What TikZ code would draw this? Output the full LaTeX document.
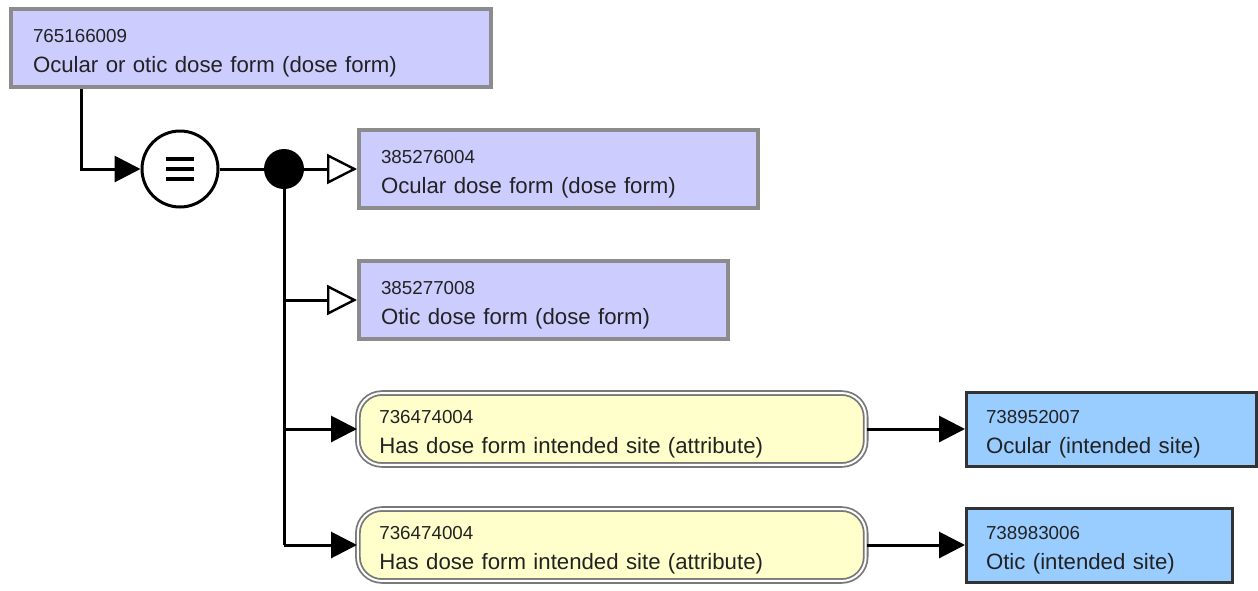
\documentclass[tikz,border=0pt]{standalone}
\usepackage{fontspec}
\setmainfont{Liberation Sans}
\usetikzlibrary{arrows.meta,calc}
\definecolor{primfill}{RGB}{204,204,255}
\definecolor{primline}{RGB}{140,140,140}
\definecolor{sitefill}{RGB}{153,204,255}
\definecolor{siteline}{RGB}{51,51,51}
\definecolor{attrfill}{RGB}{255,255,204}
\definecolor{attrline}{RGB}{120,120,120}
\definecolor{txt}{RGB}{34,34,34}
\newcommand{\sctid}[1]{{\fontsize{9.4}{15}\selectfont\rule{0pt}{12pt}#1}}

\begin{document}
\begin{tikzpicture}[x=0.5pt,y=-0.5pt,font=\fontsize{11.1}{15}\selectfont,
  concept/.style={draw=primline,line width=2pt,fill=primfill,text=txt,anchor=west,
    align=left,inner xsep=11pt,minimum height=39pt},
  site/.style={draw=siteline,line width=1.5pt,fill=sitefill,text=txt,anchor=west,
    align=left,inner xsep=9.75pt,minimum height=37pt},
  attr/.style={draw=attrline,line width=0.9pt,double=white,double distance=1pt,
    fill=attrfill,text=txt,rounded corners=12pt,anchor=west,align=left,
    inner xsep=10.7pt,minimum height=34pt},
  isa/.style={line width=1.5pt,-{Triangle[open,fill=white,length=15pt,width=15pt,line width=1.2pt]}},
  rel/.style={line width=1.5pt,-{Triangle[length=13pt,width=13pt]}},
  defn/.style={circle,draw,line width=1.5pt,fill=white,minimum size=38pt,inner sep=0pt,
    path picture={
      \foreach \dy in {-5,0,5}
        \draw[line width=1.7pt] ($(path picture bounding box.center)+(-7pt,\dy pt)$) -- ++(14pt,0);
    }},
  junction/.style={circle,fill=black,minimum size=20pt,inner sep=0pt}]
\useasboundingbox (0,0) rectangle (1258,590);
% Focus concept
\node[concept,text width=218pt] (dosefm) at (9,48)
  {\sctid{765166009}\\Ocular or otic dose form (dose form)};
% Definition status and group junction
\node[defn] (eqv) at (180,169) {};
\node[junction] (grp) at (284,169) {};
% Parents
\node[concept,text width=177.5pt] (ocular) at (357,169)
  {\sctid{385276004}\\Ocular dose form (dose form)};
\node[concept,text width=162.5pt] (otic) at (357,300)
  {\sctid{385277008}\\Otic dose form (dose form)};
% Attributes
\node[attr,text width=232.5pt] (attrA) at (357,429)
  {\sctid{736474004}\\Has dose form intended site (attribute)};
\node[attr,text width=232.5pt] (attrB) at (357,545)
  {\sctid{736474004}\\Has dose form intended site (attribute)};
% Values
\node[site,text width=125.5pt] (siteA) at (965,429)
  {\sctid{738952007}\\Ocular (intended site)};
\node[site,text width=113.5pt] (siteB) at (965,545)
  {\sctid{738983006}\\Otic (intended site)};
% Connectors
\draw[rel] ([xshift=36pt]dosefm.south west) |- (eqv);
\draw[line width=1.5pt] (eqv) -- (grp);
\draw[line width=1.5pt] (grp) -- (grp |- attrB);
\draw[isa] (grp) -- (ocular);
\draw[isa] (grp |- otic) -- (otic);
\draw[rel] (grp |- attrA) -- (attrA);
\draw[rel] (grp |- attrB) -- (attrB);
\draw[rel] (attrA) -- (siteA);
\draw[rel] (attrB) -- (siteB);
\end{tikzpicture}
\end{document}
